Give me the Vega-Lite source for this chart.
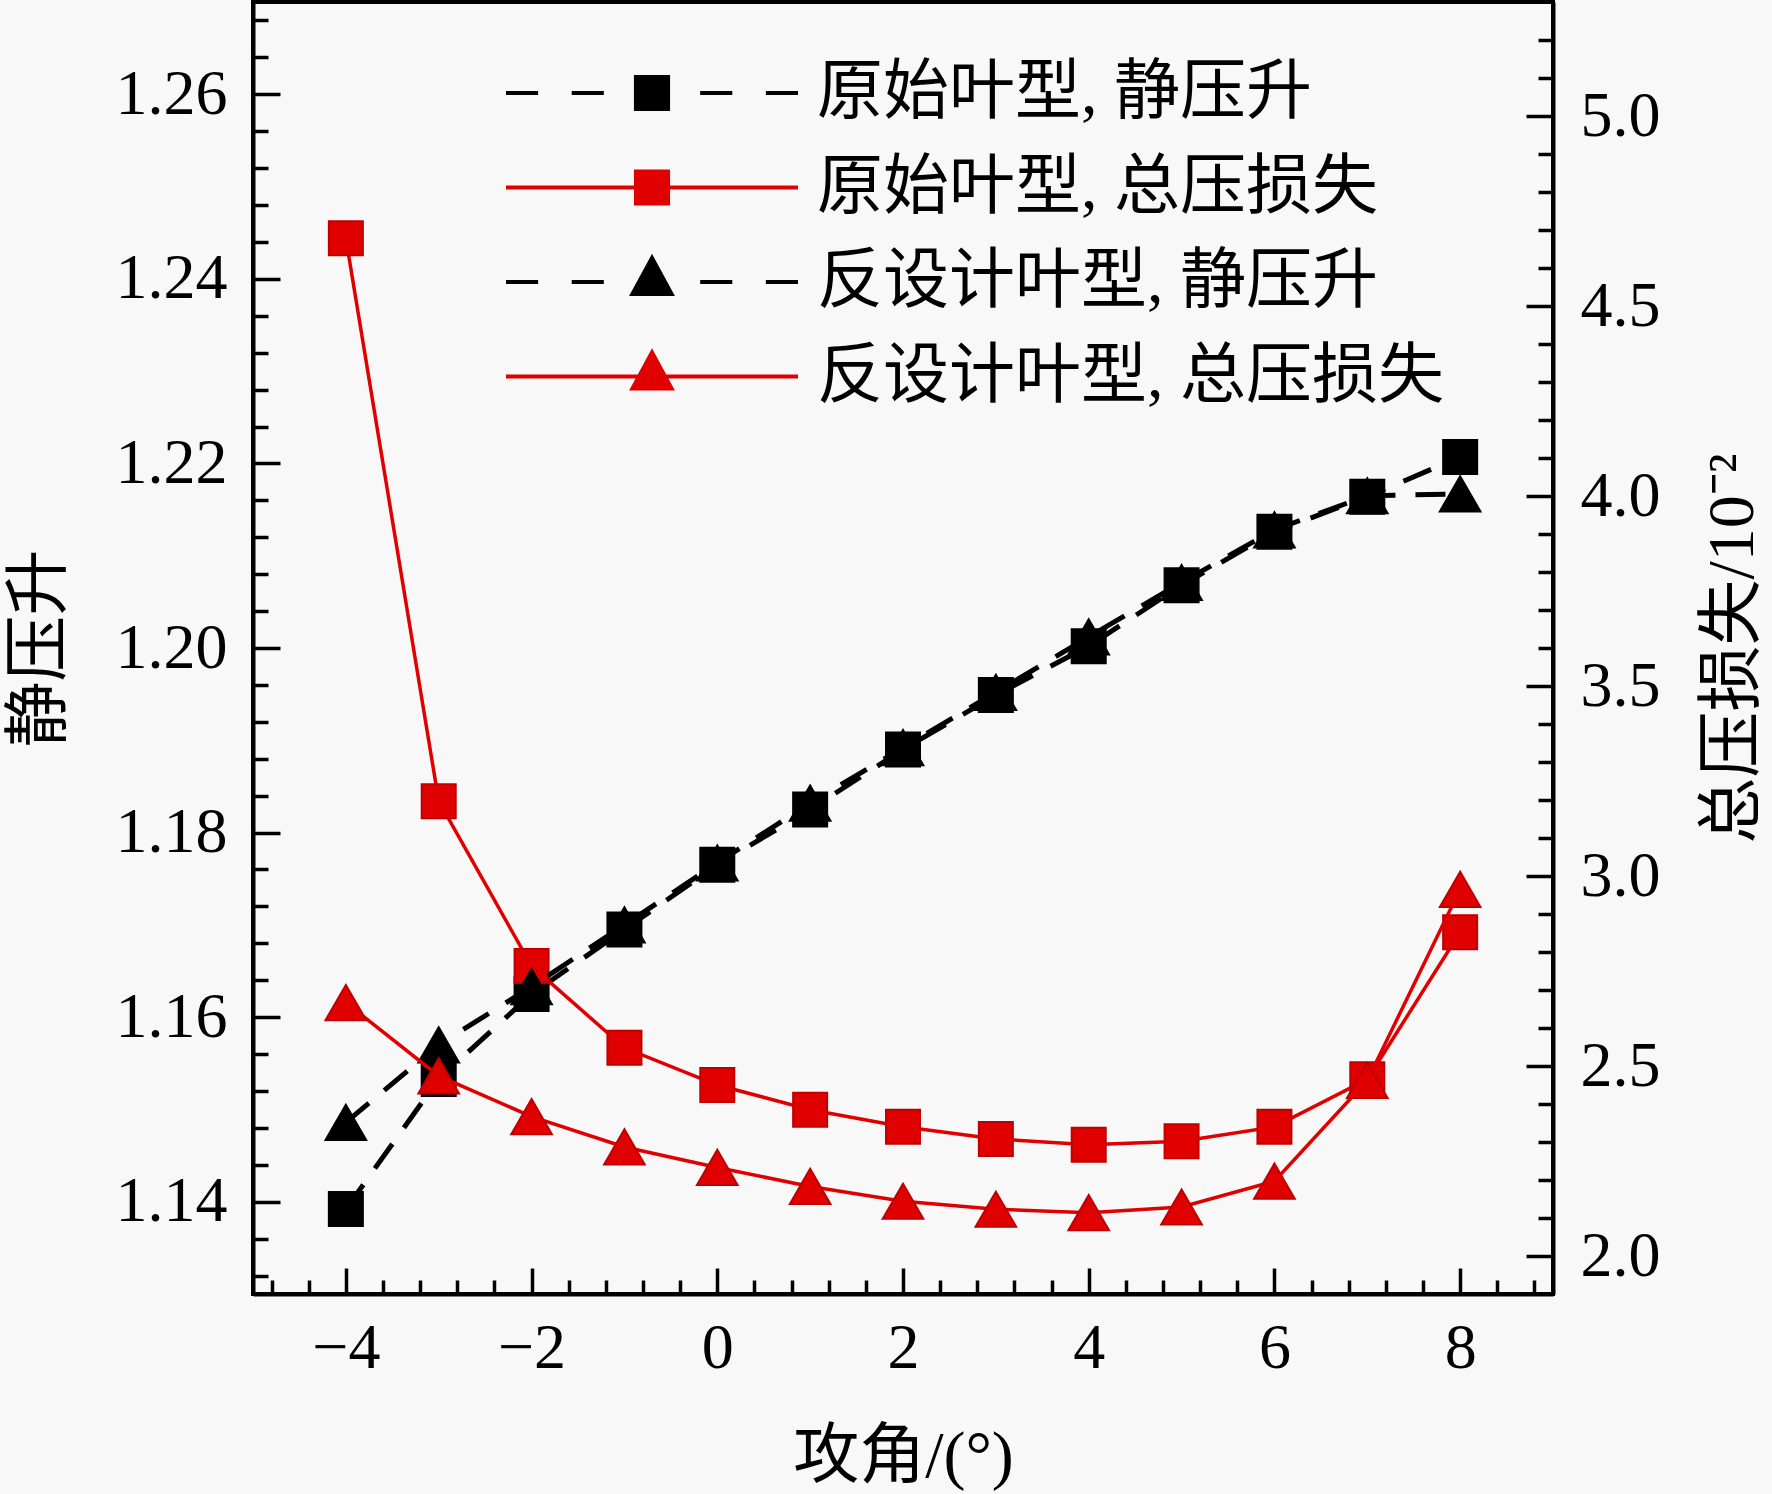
{
  "$schema": "https://vega.github.io/schema/vega-lite/v6.json",
  "width": 1300,
  "height": 1292,
  "autosize": {"type": "none"},
  "padding": {"left": 253, "top": 2, "right": 219, "bottom": 200},
  "background": "#f8f8f8",
  "config": {
    "font": "Liberation Serif, Noto Sans CJK SC",
    "view": {"stroke": "#000000", "strokeWidth": 4},
    "axis": {
      "grid": false,
      "domainColor": "#000000",
      "domainWidth": 4,
      "tickColor": "#000000",
      "tickWidth": 3.5,
      "labelColor": "#000000",
      "labelFont": "Liberation Serif, Noto Sans CJK SC",
      "labelFontSize": 64,
      "titleColor": "#000000",
      "titleFont": "Liberation Serif, Noto Sans CJK SC",
      "titleFontSize": 66,
      "titleFontWeight": "normal"
    },
    "legend": {
      "orient": "none",
      "legendX": 251,
      "legendY": 58,
      "title": null,
      "padding": 0,
      "symbolSize": 85264,
      "symbolStrokeWidth": 4,
      "clipHeight": 66,
      "rowPadding": 28.5,
      "labelOffset": 17,
      "labelFont": "Liberation Serif, Noto Sans CJK SC",
      "labelFontSize": 66,
      "labelColor": "#000000",
      "labelLimit": 900
    }
  },
  "data": {
    "values": [
      {"a": -4, "s": "原始叶型, 静压升", "v": 1.1392},
      {"a": -3, "s": "原始叶型, 静压升", "v": 1.1533},
      {"a": -2, "s": "原始叶型, 静压升", "v": 1.1625},
      {"a": -1, "s": "原始叶型, 静压升", "v": 1.1695},
      {"a": 0, "s": "原始叶型, 静压升", "v": 1.1765},
      {"a": 1, "s": "原始叶型, 静压升", "v": 1.1825},
      {"a": 2, "s": "原始叶型, 静压升", "v": 1.189},
      {"a": 3, "s": "原始叶型, 静压升", "v": 1.1949},
      {"a": 4, "s": "原始叶型, 静压升", "v": 1.2002},
      {"a": 5, "s": "原始叶型, 静压升", "v": 1.2068},
      {"a": 6, "s": "原始叶型, 静压升", "v": 1.2126},
      {"a": 7, "s": "原始叶型, 静压升", "v": 1.2164},
      {"a": 8, "s": "原始叶型, 静压升", "v": 1.2207},
      {"a": -4, "s": "原始叶型, 总压损失", "v": 4.678},
      {"a": -3, "s": "原始叶型, 总压损失", "v": 3.197},
      {"a": -2, "s": "原始叶型, 总压损失", "v": 2.763},
      {"a": -1, "s": "原始叶型, 总压损失", "v": 2.548},
      {"a": 0, "s": "原始叶型, 总压损失", "v": 2.45},
      {"a": 1, "s": "原始叶型, 总压损失", "v": 2.385},
      {"a": 2, "s": "原始叶型, 总压损失", "v": 2.34},
      {"a": 3, "s": "原始叶型, 总压损失", "v": 2.308},
      {"a": 4, "s": "原始叶型, 总压损失", "v": 2.293},
      {"a": 5, "s": "原始叶型, 总压损失", "v": 2.302},
      {"a": 6, "s": "原始叶型, 总压损失", "v": 2.34},
      {"a": 7, "s": "原始叶型, 总压损失", "v": 2.465},
      {"a": 8, "s": "原始叶型, 总压损失", "v": 2.852},
      {"a": -4, "s": "反设计叶型, 静压升", "v": 1.1486},
      {"a": -3, "s": "反设计叶型, 静压升", "v": 1.157},
      {"a": -2, "s": "反设计叶型, 静压升", "v": 1.1633},
      {"a": -1, "s": "反设计叶型, 静压升", "v": 1.17},
      {"a": 0, "s": "反设计叶型, 静压升", "v": 1.1767},
      {"a": 1, "s": "反设计叶型, 静压升", "v": 1.1832},
      {"a": 2, "s": "反设计叶型, 静压升", "v": 1.1892},
      {"a": 3, "s": "反设计叶型, 静压升", "v": 1.1952},
      {"a": 4, "s": "反设计叶型, 静压升", "v": 1.2012},
      {"a": 5, "s": "反设计叶型, 静压升", "v": 1.2071},
      {"a": 6, "s": "反设计叶型, 静压升", "v": 1.2128},
      {"a": 7, "s": "反设计叶型, 静压升", "v": 1.2165},
      {"a": 8, "s": "反设计叶型, 静压升", "v": 1.2167},
      {"a": -4, "s": "反设计叶型, 总压损失", "v": 2.667},
      {"a": -3, "s": "反设计叶型, 总压损失", "v": 2.474},
      {"a": -2, "s": "反设计叶型, 总压损失", "v": 2.367},
      {"a": -1, "s": "反设计叶型, 总压损失", "v": 2.287},
      {"a": 0, "s": "反设计叶型, 总压损失", "v": 2.233},
      {"a": 1, "s": "反设计叶型, 总压损失", "v": 2.183},
      {"a": 2, "s": "反设计叶型, 总压损失", "v": 2.144},
      {"a": 3, "s": "反设计叶型, 总压损失", "v": 2.123},
      {"a": 4, "s": "反设计叶型, 总压损失", "v": 2.114},
      {"a": 5, "s": "反设计叶型, 总压损失", "v": 2.129},
      {"a": 6, "s": "反设计叶型, 总压损失", "v": 2.197},
      {"a": 7, "s": "反设计叶型, 总压损失", "v": 2.462},
      {"a": 8, "s": "反设计叶型, 总压损失", "v": 2.965}
    ]
  },
  "encoding": {
    "color": {
      "field": "s",
      "type": "nominal",
      "scale": {
        "domain": ["原始叶型, 静压升", "原始叶型, 总压损失", "反设计叶型, 静压升", "反设计叶型, 总压损失"],
        "range": ["#000000", "#e00000", "#000000", "#e00000"]
      }
    }
  },
  "layer": [
    {
      "transform": [{"filter": "datum.s === '原始叶型, 静压升'"}],
      "encoding": {
        "x": {
          "field": "a",
          "type": "quantitative",
          "scale": {"domain": [-5, 9], "nice": false, "zero": false},
          "axis": {
            "orient": "bottom",
            "title": "攻角/(°)",
            "titlePadding": 44,
            "values": [-4, -2, 0, 2, 4, 6, 8],
            "format": "d",
            "tickSize": -26,
            "labelPadding": 48,
            "labelFlush": false,
            "labelOverlap": false
          }
        },
        "y": {
          "field": "v",
          "type": "quantitative",
          "scale": {"domain": [1.13, 1.27], "nice": false, "zero": false},
          "axis": {
            "orient": "left",
            "title": "静压升",
            "titlePadding": 42,
            "values": [1.14, 1.16, 1.18, 1.2, 1.22, 1.24, 1.26],
            "format": ".2f",
            "tickSize": -27,
            "labelPadding": 53,
            "labelFlush": false,
            "labelOverlap": false
          }
        }
      },
      "layer": [
        {"mark": {"type": "line", "strokeWidth": 5, "strokeDash": [30, 20]}, "encoding": {}},
        {"mark": {"type": "point", "shape": "square", "filled": true, "size": 1156, "opacity": 1, "stroke": "#000000", "strokeWidth": 2}, "encoding": {}}
      ]
    },
    {
      "transform": [{"filter": "datum.s === '原始叶型, 总压损失'"}],
      "encoding": {
        "x": {
          "field": "a",
          "type": "quantitative",
          "scale": {"domain": [-5, 9], "nice": false, "zero": false},
          "axis": {
            "orient": "bottom",
            "title": null,
            "values": [-4.8, -4.4, -3.6, -3.2, -2.8, -2.4, -1.6, -1.2, -0.8, -0.4, 0.4, 0.8, 1.2, 1.6, 2.4, 2.8, 3.2, 3.6, 4.4, 4.8, 5.2, 5.6, 6.4, 6.8, 7.2, 7.6, 8.4, 8.8],
            "labels": false,
            "domain": false,
            "tickSize": -14
          }
        },
        "y": {
          "field": "v",
          "type": "quantitative",
          "scale": {"domain": [1.9, 5.3], "nice": false, "zero": false},
          "axis": {
            "orient": "right",
            "title": "总压损失/10⁻²",
            "titleAngle": 270,
            "titleBaseline": "top",
            "titlePadding": 40,
            "values": [2, 2.5, 3, 3.5, 4, 4.5, 5],
            "format": ".1f",
            "tickSize": -27,
            "labelPadding": 54,
            "labelFlush": false,
            "labelOverlap": false
          }
        }
      },
      "layer": [
        {"mark": {"type": "line", "strokeWidth": 3.5}, "encoding": {}},
        {"mark": {"type": "point", "shape": "square", "filled": true, "size": 1156, "opacity": 1, "stroke": "#c00000", "strokeWidth": 2}, "encoding": {}}
      ]
    },
    {
      "transform": [{"filter": "datum.s === '反设计叶型, 静压升'"}],
      "encoding": {
        "x": {
          "field": "a",
          "type": "quantitative",
          "scale": {"domain": [-5, 9], "nice": false, "zero": false},
          "axis": null
        },
        "y": {
          "field": "v",
          "type": "quantitative",
          "scale": {"domain": [1.13, 1.27], "nice": false, "zero": false},
          "axis": {
            "orient": "left",
            "title": null,
            "values": [1.132, 1.136, 1.144, 1.148, 1.152, 1.156, 1.164, 1.168, 1.172, 1.176, 1.184, 1.188, 1.192, 1.196, 1.204, 1.208, 1.212, 1.216, 1.224, 1.228, 1.232, 1.236, 1.244, 1.248, 1.252, 1.256, 1.264, 1.268],
            "labels": false,
            "domain": false,
            "tickSize": -15
          }
        }
      },
      "layer": [
        {"mark": {"type": "line", "strokeWidth": 5, "strokeDash": [30, 20]}, "encoding": {}},
        {"mark": {"type": "point", "shape": "triangle-up", "filled": true, "size": 1650, "opacity": 1, "stroke": "#000000", "strokeWidth": 2}, "encoding": {}}
      ]
    },
    {
      "transform": [{"filter": "datum.s === '反设计叶型, 总压损失'"}],
      "encoding": {
        "x": {
          "field": "a",
          "type": "quantitative",
          "scale": {"domain": [-5, 9], "nice": false, "zero": false},
          "axis": null
        },
        "y": {
          "field": "v",
          "type": "quantitative",
          "scale": {"domain": [1.9, 5.3], "nice": false, "zero": false},
          "axis": {
            "orient": "right",
            "title": null,
            "values": [2.1, 2.2, 2.3, 2.4, 2.6, 2.7, 2.8, 2.9, 3.1, 3.2, 3.3, 3.4, 3.6, 3.7, 3.8, 3.9, 4.1, 4.2, 4.3, 4.4, 4.6, 4.7, 4.8, 4.9, 5.1, 5.2],
            "labels": false,
            "domain": false,
            "tickSize": -15
          }
        }
      },
      "layer": [
        {"mark": {"type": "line", "strokeWidth": 3.5}, "encoding": {}},
        {"mark": {"type": "point", "shape": "triangle-up", "filled": true, "size": 1650, "opacity": 1, "stroke": "#c00000", "strokeWidth": 2}, "encoding": {}}
      ]
    },
    {
      "transform": [{"filter": "false"}],
      "mark": {"type": "point", "filled": true, "opacity": 1},
      "encoding": {
        "shape": {
          "field": "s",
          "type": "nominal",
          "scale": {
            "domain": ["原始叶型, 静压升", "原始叶型, 总压损失", "反设计叶型, 静压升", "反设计叶型, 总压损失"],
            "range": [
              "M-1,0H-0.78M-0.55,0H-0.33M0.33,0H0.55M0.78,0H1M-0.11,-0.11H0.11V0.11H-0.11Z",
              "M-1,0H-0.11M0.11,0H1M-0.11,-0.11H0.11V0.11H-0.11Z",
              "M-1,0H-0.78M-0.55,0H-0.33M0.33,0H0.55M0.78,0H1M0,-0.164L0.134,0.082L-0.134,0.082Z",
              "M-1,0H-0.09M0.09,0H1M0,-0.164L0.134,0.082L-0.134,0.082Z"
            ]
          }
        }
      }
    }
  ],
  "resolve": {"scale": {"y": "independent"}, "axis": {"x": "independent", "y": "independent"}}
}
